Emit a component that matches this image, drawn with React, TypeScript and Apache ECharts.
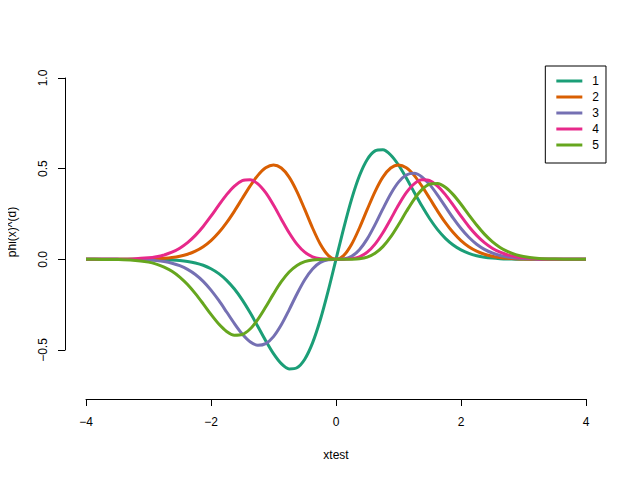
import React, { useEffect, useRef } from "react";
import * as echarts from "echarts";

const xValues = [
  -4, -3.75, -3.5, -3.25, -3, -2.875, -2.75, -2.625, -2.5, -2.375, -2.25, -2.125, -2, -1.875, -1.75, -1.625,
  -1.5, -1.375, -1.25, -1.125, -1, -0.875, -0.75, -0.625, -0.5, -0.375, -0.25, -0.125,
  0, 0.125, 0.25, 0.375, 0.5, 0.625, 0.75, 0.875, 1, 1.125, 1.25, 1.375, 1.5, 1.625, 1.75, 1.875,
  2, 2.125, 2.25, 2.375, 2.5, 2.625, 2.75, 2.875, 3, 3.25, 3.5, 3.75, 4,
];

const d1 = [
  0, 0, 0, -0.0001, -0.0005, -0.001, -0.002, -0.0038, -0.0068, -0.0119, -0.0201, -0.0328, -0.0518, -0.0788, -0.1157, -0.1638,
  -0.2236, -0.2935, -0.3705, -0.4487, -0.5202, -0.5754, -0.6043, -0.598, -0.5506, -0.4607, -0.3321, -0.174,
  0, 0.174, 0.3321, 0.4607, 0.5506, 0.598, 0.6043, 0.5754, 0.5202, 0.4487, 0.3705, 0.2935, 0.2236, 0.1638, 0.1157, 0.0788,
  0.0518, 0.0328, 0.0201, 0.0119, 0.0068, 0.0038, 0.002, 0.001, 0.0005, 0.0001, 0, 0, 0,
];
const d2 = [
  0, 0, 0.0001, 0.0004, 0.0016, 0.003, 0.0056, 0.0099, 0.0171, 0.0283, 0.0453, 0.0698, 0.1036, 0.1477, 0.2025, 0.2662,
  0.3353, 0.4035, 0.4631, 0.5048, 0.5202, 0.5034, 0.4532, 0.3737, 0.2753, 0.1728, 0.083, 0.0218,
  0, 0.0218, 0.083, 0.1728, 0.2753, 0.3737, 0.4532, 0.5034, 0.5202, 0.5048, 0.4631, 0.4035, 0.3353, 0.2662, 0.2025, 0.1477,
  0.1036, 0.0698, 0.0453, 0.0283, 0.0171, 0.0099, 0.0056, 0.003, 0.0016, 0.0004, 0.0001, 0, 0,
];
const d3 = [
  0, 0, -0.0002, -0.001, -0.0039, -0.0071, -0.0125, -0.0213, -0.0349, -0.0551, -0.0835, -0.1215, -0.1697, -0.2269, -0.2903, -0.3543,
  -0.4119, -0.4544, -0.4741, -0.465, -0.426, -0.3608, -0.2784, -0.1913, -0.1127, -0.0531, -0.017, -0.0022,
  0, 0.0022, 0.017, 0.0531, 0.1127, 0.1913, 0.2784, 0.3608, 0.426, 0.465, 0.4741, 0.4544, 0.4119, 0.3543, 0.2903, 0.2269,
  0.1697, 0.1215, 0.0835, 0.0551, 0.0349, 0.0213, 0.0125, 0.0071, 0.0039, 0.001, 0.0002, 0, 0,
];
const d4 = [
  0, 0.0001, 0.0006, 0.0023, 0.0081, 0.0143, 0.0242, 0.0393, 0.0613, 0.0919, 0.1319, 0.1812, 0.2383, 0.2986, 0.3566, 0.4042,
  0.4338, 0.4387, 0.416, 0.3673, 0.2991, 0.2216, 0.1466, 0.0839, 0.0396, 0.014, 0.003, 0.0002,
  0, 0.0002, 0.003, 0.014, 0.0396, 0.0839, 0.1466, 0.2216, 0.2991, 0.3673, 0.416, 0.4387, 0.4338, 0.4042, 0.3566, 0.2986,
  0.2383, 0.1812, 0.1319, 0.0919, 0.0613, 0.0393, 0.0242, 0.0143, 0.0081, 0.0023, 0.0006, 0.0001, 0,
];
const d5 = [
  -0.0001, -0.0003, -0.0013, -0.0048, -0.0155, -0.0261, -0.0424, -0.0657, -0.0976, -0.139, -0.1891, -0.2453, -0.3037, -0.3568, -0.3976, -0.4185,
  -0.4146, -0.3843, -0.3313, -0.2633, -0.1906, -0.1236, -0.07, -0.0334, -0.0126, -0.0033, -0.0005, 0,
  0, 0, 0.0005, 0.0033, 0.0126, 0.0334, 0.07, 0.1236, 0.1906, 0.2633, 0.3313, 0.3843, 0.4146, 0.4185, 0.3976, 0.3568,
  0.3037, 0.2453, 0.1891, 0.139, 0.0976, 0.0657, 0.0424, 0.0261, 0.0155, 0.0048, 0.0013, 0.0003, 0.0001,
];

const seriesNames = ["1", "2", "3", "4", "5"];
const seriesData = [d1, d2, d3, d4, d5];
const colors = ["#1B9E77", "#D95F02", "#7570B3", "#E7298A", "#66A61E"];

const xTicks = [-4, -2, 0, 2, 4];
const yTicks = [-0.5, 0, 0.5, 1.0];
const xLabel = "xtest";
const yLabel = "phi(x)^(d)";

const FONT = "'Liberation Sans', Arial, Helvetica, sans-serif";

export default function App() {
  const ref = useRef<HTMLDivElement>(null);
  useEffect(() => {
    if (!ref.current) return;
    const chart = echarts.init(ref.current, null, { renderer: "svg" });
    chart.setOption({
      animation: false,
      backgroundColor: "#ffffff",
      textStyle: { fontFamily: FONT },
      grid: { left: 86, right: 54, top: 78, bottom: 130 },
      legend: {
        orient: "vertical",
        right: 34,
        top: 66,
        data: seriesNames,
        icon: "rect",
        itemWidth: 26,
        itemHeight: 3,
        itemGap: 4,
        padding: [9, 7, 12, 11],
        borderColor: "#000000",
        borderWidth: 1,
        borderRadius: 0,
        selectedMode: false,
        textStyle: { fontFamily: FONT, fontSize: 12, color: "#000000", lineHeight: 12, padding: [0, 0, 0, 5] },
      },
      xAxis: {
        type: "value",
        min: xTicks[0],
        max: xTicks[xTicks.length - 1],
        interval: 2,
        offset: 49,
        axisLine: { onZero: false, lineStyle: { color: "#000000", width: 1 } },
        axisTick: { length: 7, lineStyle: { color: "#000000" } },
        axisLabel: {
          color: "#000000",
          fontSize: 12,
          fontFamily: FONT,
          margin: 17,
          formatter: (v: number) => (v < 0 ? "\u2212" : "") + String(Math.abs(v)),
        },
        splitLine: { show: false },
      },
      yAxis: {
        type: "value",
        min: yTicks[0],
        max: yTicks[yTicks.length - 1],
        interval: 0.5,
        offset: 21,
        axisLine: { show: true, onZero: false, lineStyle: { color: "#000000", width: 1 } },
        axisTick: { show: true, length: 7, lineStyle: { color: "#000000" } },
        axisLabel: {
          color: "#000000",
          fontSize: 12,
          fontFamily: FONT,
          rotate: 90,
          margin: 16,
          formatter: (v: number) => (v < 0 ? "\u2212" : "") + Math.abs(v).toFixed(1),
        },
        splitLine: { show: false },
      },
      graphic: [
        {
          type: "text",
          x: 336,
          y: 455,
          style: { text: xLabel, fontSize: 12, fontFamily: FONT, fill: "#000000", align: "center", verticalAlign: "middle" },
        },
        {
          type: "text",
          x: 12,
          y: 232,
          rotation: Math.PI / 2,
          style: { text: yLabel, fontSize: 12, fontFamily: FONT, fill: "#000000", align: "center", verticalAlign: "middle" },
        },
      ],
      series: seriesNames.map((name, i) => ({
        name,
        type: "line",
        data: xValues.map((x, j) => [x, seriesData[i][j]]),
        smooth: 0.3,
        showSymbol: false,
        symbol: "none",
        clip: false,
        color: colors[i],
        lineStyle: { color: colors[i], width: 3 },
      })),
    });
    return () => chart.dispose();
  }, []);
  return <div ref={ref} style={{ width: 640, height: 480, margin: -8 }} />;
}
